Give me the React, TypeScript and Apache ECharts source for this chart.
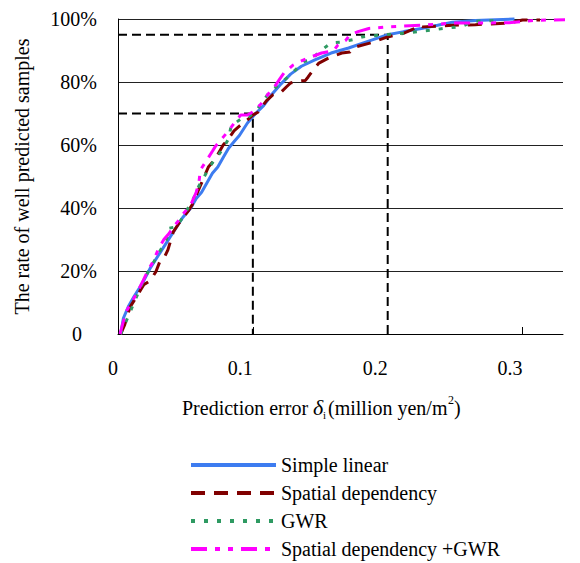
import React, { useEffect, useRef } from "react";
import * as echarts from "echarts";

const FONT = "Times New Roman";

const seriesNames = [
  "Simple linear",
  "Spatial dependency",
  "GWR",
  "Spatial dependency +GWR",
];

const xTicks = [0, 0.1, 0.2, 0.3];
const yTicks = [0, 20, 40, 60, 80, 100];

// [prediction error, rate of well predicted samples (%)]
const simpleLinear: [number, number][] = [
  [0.002, 0], [0.004, 5], [0.008, 9], [0.012, 12], [0.018, 16], [0.024, 21],
  [0.03, 25], [0.036, 29], [0.042, 33], [0.048, 37], [0.054, 40], [0.058, 43],
  [0.062, 45], [0.066, 48], [0.07, 51], [0.074, 53], [0.078, 56], [0.082, 59],
  [0.086, 61], [0.09, 63], [0.096, 67], [0.102, 70], [0.108, 72.5], [0.114, 76],
  [0.12, 79], [0.128, 82.5], [0.136, 85], [0.146, 87], [0.158, 89.2], [0.171, 90.8],
  [0.188, 93.3], [0.2, 95], [0.212, 96], [0.225, 97], [0.237, 98], [0.248, 99],
  [0.265, 99.5], [0.28, 99.8], [0.294, 100],
];

const spatialDependency: [number, number][] = [
  [0.002, 0], [0.005, 3], [0.009, 8.6], [0.014, 12], [0.019, 15.6], [0.024, 17],
  [0.028, 19.7], [0.031, 23], [0.034, 24], [0.037, 26.7], [0.041, 32.4], [0.045, 35],
  [0.048, 36.8], [0.052, 39], [0.055, 41], [0.058, 44], [0.061, 47], [0.064, 50],
  [0.067, 53], [0.071, 55], [0.074, 57], [0.078, 60], [0.082, 62], [0.086, 64.5],
  [0.09, 66], [0.096, 68], [0.1, 69.5], [0.104, 70.5], [0.11, 74], [0.115, 76],
  [0.121, 76.8], [0.125, 78.5], [0.128, 79.7], [0.134, 80.3], [0.139, 80.5], [0.141, 81.6],
  [0.145, 84], [0.149, 86], [0.156, 87.6], [0.166, 89.2], [0.172, 89.5], [0.175, 91],
  [0.188, 92.5], [0.2, 94.3], [0.212, 95.5], [0.22, 97], [0.223, 98], [0.226, 97.5],
  [0.248, 98], [0.265, 98.2], [0.29, 98.7], [0.3, 99.7], [0.313, 99.7],
];

const gwr: [number, number][] = [
  [0.002, 0], [0.006, 4], [0.01, 8], [0.0127, 10.8], [0.016, 14], [0.02, 18],
  [0.024, 21], [0.028, 24], [0.032, 27], [0.036, 30], [0.038, 33.6], [0.043, 34],
  [0.048, 37], [0.052, 40], [0.056, 43], [0.06, 47], [0.064, 50], [0.068, 53],
  [0.071, 55], [0.074, 56.5], [0.078, 59], [0.082, 62], [0.084, 66.3], [0.087, 67],
  [0.092, 68.5], [0.097, 69], [0.102, 70.5], [0.106, 73], [0.111, 76], [0.116, 78],
  [0.121, 79.7], [0.127, 82], [0.134, 84.8], [0.138, 86.5], [0.143, 87], [0.148, 89],
  [0.153, 90.8], [0.158, 92.4], [0.166, 92.7], [0.175, 93.5], [0.181, 94.3], [0.196, 95],
  [0.213, 95.5], [0.233, 96.5], [0.245, 97.2], [0.255, 97.6], [0.264, 99.3], [0.28, 99.5],
];

const spatialGwr: [number, number][] = [
  [0.0015, 0], [0.004, 4], [0.0067, 7.6], [0.01, 10], [0.014, 13], [0.0187, 17],
  [0.022, 20], [0.026, 23], [0.03, 27], [0.034, 30], [0.038, 32], [0.041, 34],
  [0.045, 36], [0.048, 38], [0.052, 40], [0.055, 42], [0.058, 45], [0.06, 48],
  [0.061, 52], [0.064, 54], [0.067, 56], [0.07, 58], [0.072, 59.4], [0.075, 61],
  [0.078, 62.5], [0.081, 64], [0.084, 65.7], [0.088, 68], [0.091, 69.5], [0.096, 69.5],
  [0.1, 70.5], [0.106, 73], [0.111, 76], [0.116, 78.4], [0.12, 81], [0.123, 82.8],
  [0.13, 85.4], [0.135, 86.5], [0.141, 87.6], [0.151, 89.2], [0.16, 90], [0.163, 91.7],
  [0.169, 93.3], [0.172, 95], [0.178, 96], [0.186, 97], [0.2, 97.5], [0.225, 98],
  [0.248, 98.7], [0.29, 98.8], [0.31, 99.6], [0.342, 99.8],
];

// Reference guide lines (error threshold -> rate)
const guide70: [number, number][] = [[0, 70], [0.1, 70], [0.1, 0]];
const guide95: [number, number][] = [[0, 95], [0.2, 95], [0.2, 0]];

const colors = ["#3D7CF0", "#800000", "#2E9A62", "#FF00FF"];

// x-axis title pieces: [text, fontSize, italic, vertical offset]
const xTitleParts: [string, number, boolean, number][] = [
  ["Prediction error ", 20, false, 0],
  ["δ", 22, true, -1],
  ["i", 11, false, 7],
  ["(million yen/m", 20, false, 0],
  ["2", 12, false, -8],
  [")", 20, false, 0],
];

function measure(text: string, size: number, italic: boolean): number {
  const c = document.createElement("canvas").getContext("2d");
  if (!c) return text.length * size * 0.45;
  c.font = `${italic ? "italic " : ""}${size}px ${FONT}`;
  return c.measureText(text).width;
}

const CSS = `#chart-root, #chart-root svg, #chart-root svg text, #chart-root svg tspan { font-family: "Times New Roman", "Liberation Serif", serif !important; }`;

export default function App() {
  const ref = useRef<HTMLDivElement>(null);

  useEffect(() => {
    if (!ref.current) return;
    const chart = echarts.init(ref.current, undefined, { renderer: "svg" });

    const curve = (name: string, data: [number, number][], color: string, type: any, width: number) => ({
      name,
      type: "line",
      data,
      showSymbol: false,
      symbol: "none",
      clip: false,
      lineStyle: { color, type, width, cap: "butt" },
      itemStyle: { color },
      z: 3,
    });

    const guide = (data: [number, number][]) => ({
      name: "guide",
      type: "line",
      data,
      symbol: "none",
      showSymbol: false,
      silent: true,
      lineStyle: { color: "#000", type: [9, 5], width: 2 },
      z: 2,
    });

    const titleEls: any[] = [];
    let cx = 182;
    const cy = 398;
    xTitleParts.forEach(([t, size, italic, dy], i) => {
      const style: any = {
        text: t,
        fontFamily: FONT,
        fontSize: size,
        fill: "#000",
      };
      if (italic) style.fontStyle = "italic";
      titleEls.push({
        type: "text",
        left: Math.round(cx),
        top: cy + dy + (20 - size) / 2,
        silent: true,
        style,
      });
      cx += measure(t, size, italic) + (i === 2 ? 2 : 0);
    });

    chart.setOption({
      animation: false,
      grid: { left: 118, right: 17, top: 19, bottom: 229 },
      legend: {
        orient: "vertical",
        left: 189,
        top: 455,
        padding: 0,
        itemWidth: 85,
        itemHeight: 14,
        itemGap: 8,
        data: seriesNames,
        itemStyle: { opacity: 0 },
        lineStyle: { width: 4 },
        textStyle: { fontFamily: FONT, fontSize: 20, color: "#000" },
      },
      xAxis: {
        type: "value",
        min: 0,
        max: 0.33,
        interval: 0.1,
        splitLine: { show: false },
        axisLine: { show: true, onZero: false, lineStyle: { color: "#000", width: 1 } },
        axisTick: { show: true, inside: true, length: 7, lineStyle: { color: "#000" } },
        axisLabel: {
          fontFamily: FONT,
          fontSize: 20,
          color: "#000",
          margin: 24,
          align: "right",
          showMaxLabel: false,
          formatter: (v: number) => {
            const t = xTicks.find((k) => Math.abs(k - v) < 1e-9);
            return t === undefined ? "" : String(t);
          },
        },
      },
      yAxis: {
        type: "value",
        min: 0,
        max: 100,
        interval: 20,
        axisLine: { show: true, lineStyle: { color: "#000", width: 1 } },
        axisTick: { show: false },
        splitLine: { show: true, lineStyle: { color: "#222", width: 1 } },
        axisLabel: {
          fontFamily: FONT,
          fontSize: 20,
          color: "#000",
          margin: 21,
          formatter: (v: number) => {
            const t = yTicks.find((k) => Math.abs(k - v) < 1e-9);
            if (t === undefined) return "";
            return t === 0 ? "0   " : `${t}%`;
          },
        },
        name: "The rate of well predicted samples",
        nameLocation: "middle",
        nameGap: 86,
        nameTextStyle: { fontFamily: FONT, fontSize: 20, color: "#000" },
      },
      graphic: titleEls,
      series: [
        guide(guide70),
        guide(guide95),
        curve(seriesNames[0], simpleLinear, colors[0], "solid", 3),
        curve(seriesNames[1], spatialDependency, colors[1], [14, 9], 3),
        curve(seriesNames[2], gwr, colors[2], [4, 9], 3),
        curve(seriesNames[3], spatialGwr, colors[3], [16, 8, 5, 8, 5, 8], 3),
      ],
    });

    return () => chart.dispose();
  }, []);

  return (
    <>
      <style>{CSS}</style>
      <div
        id="chart-root"
        ref={ref}
        style={{ position: "fixed", left: 0, top: 0, width: 580, height: 563, background: "#fff" }}
      />
    </>
  );
}
